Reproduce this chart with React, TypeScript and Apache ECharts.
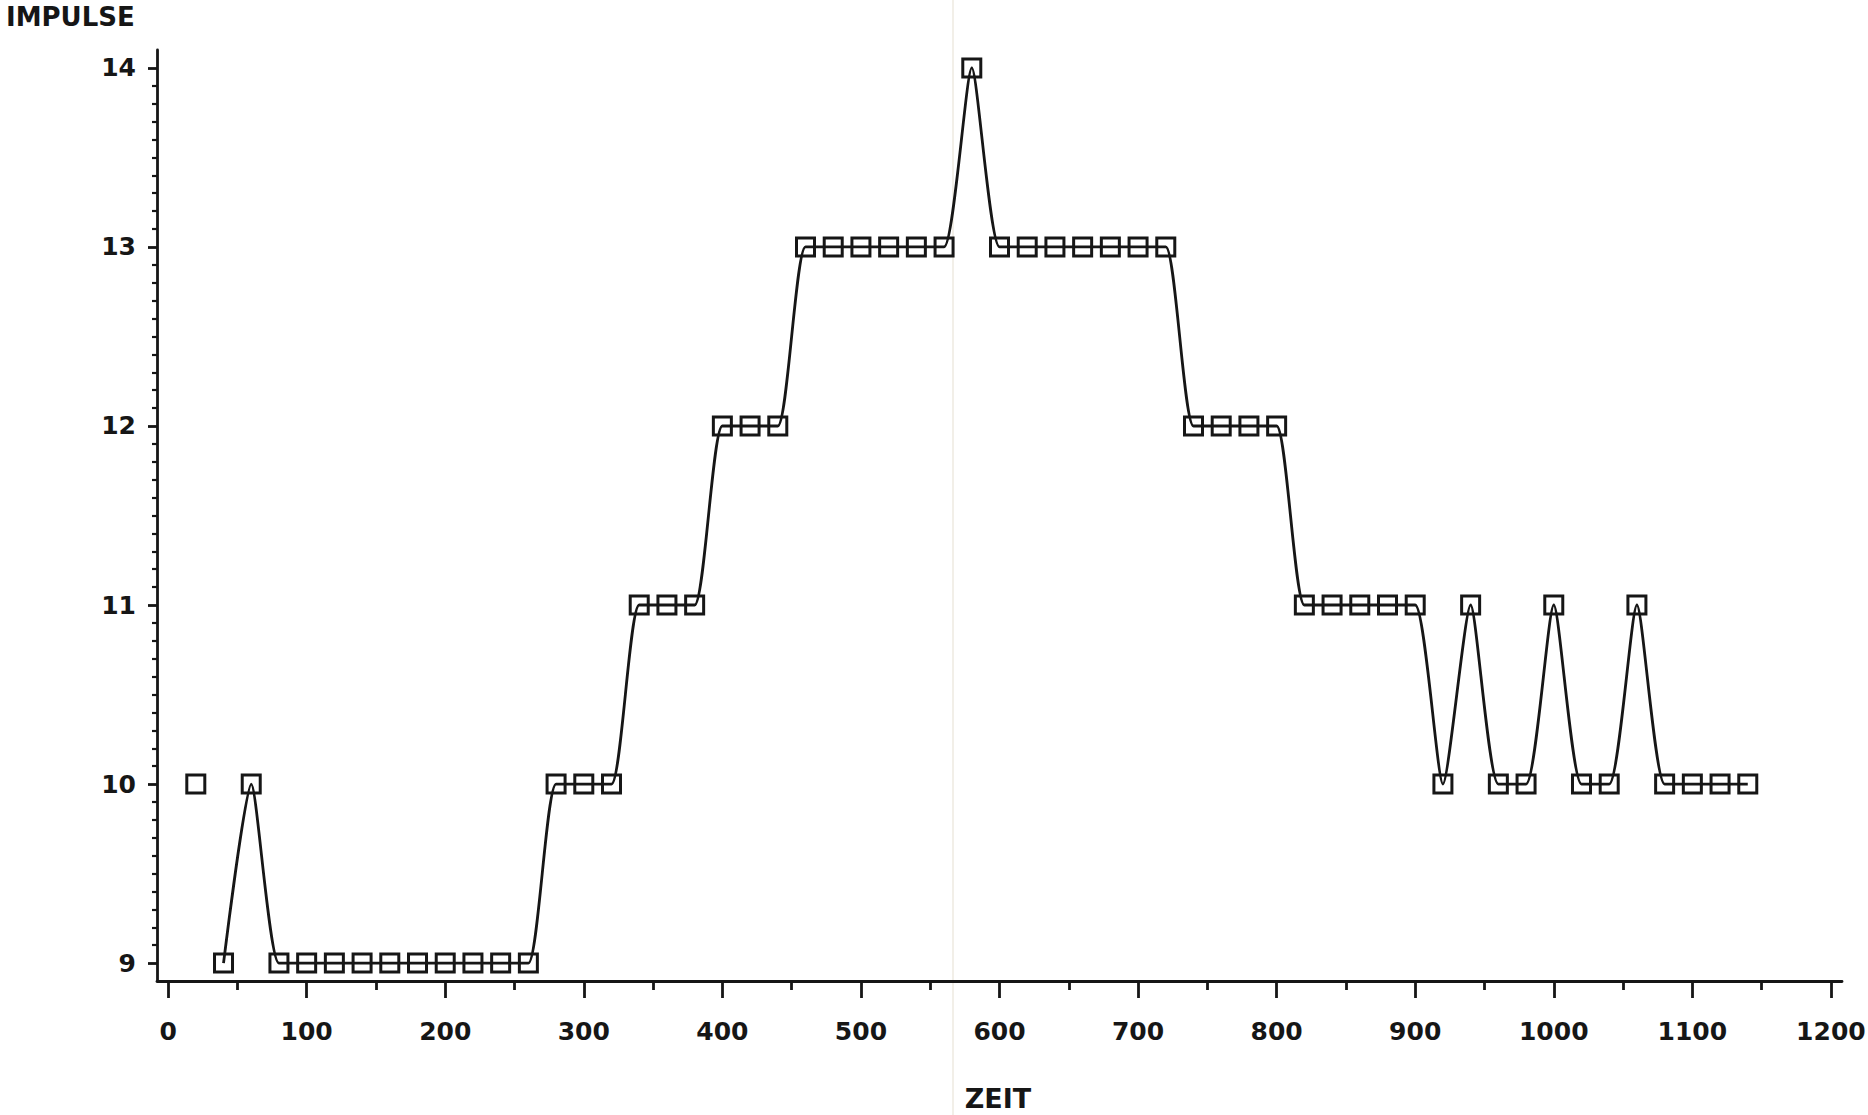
import React, { useEffect, useRef } from 'react';
import * as echarts from 'echarts';

// ---- data ----
const zeit = [
  20, 40, 60, 80, 100, 120, 140, 160, 180, 200, 220, 240, 260, 280, 300, 320,
  340, 360, 380, 400, 420, 440, 460, 480, 500, 520, 540, 560, 580, 600, 620,
  640, 660, 680, 700, 720, 740, 760, 780, 800, 820, 840, 860, 880, 900, 920,
  940, 960, 980, 1000, 1020, 1040, 1060, 1080, 1100, 1120, 1140,
];
const impulse = [
  10, 9, 10, 9, 9, 9, 9, 9, 9, 9, 9, 9, 9, 10, 10, 10,
  11, 11, 11, 12, 12, 12, 13, 13, 13, 13, 13, 13, 14, 13, 13,
  13, 13, 13, 13, 13, 12, 12, 12, 12, 11, 11, 11, 11, 11, 10,
  11, 10, 10, 11, 10, 10, 11, 10, 10, 10, 10,
];
const xTickValues = [0, 100, 200, 300, 400, 500, 600, 700, 800, 900, 1000, 1100, 1200];
const yTickValues = [9, 10, 11, 12, 13, 14];
const xAxisTitle = 'ZEIT';
const yAxisTitle = 'IMPULSE';

const INK = '#161616';
const FONT = '"DejaVu Sans", sans-serif';

export default function App() {
  const ref = useRef<HTMLDivElement>(null);

  useEffect(() => {
    if (!ref.current) return;
    const chart = echarts.init(ref.current, null, { renderer: 'svg' });

    const points = zeit.map((x, i) => [x, impulse[i]]);
    const linePoints = points.slice(1);

    const xMinor = xTickValues.slice(0, -1).map((v) => v + 50);
    const yMinor: number[] = [];
    for (let i = 0; i < yTickValues.length - 1; i++) {
      for (let j = 1; j < 10; j++) yMinor.push(Math.round((yTickValues[i] + j / 10) * 10) / 10);
    }

    const labelStyle = {
      color: INK,
      fontFamily: FONT,
      fontWeight: 'bold' as const,
      fontSize: 25,
      formatter: (v: number) => String(v),
    };

    chart.setOption({
      animation: false,
      backgroundColor: '#ffffff',
      grid: {
        left: 157,
        right: 26,
        top: 50,
        bottom: 134,
        containLabel: false,
        outerBoundsMode: 'none',
      },
      xAxis: [
        {
          type: 'value',
          min: -8,
          max: 1208,
          position: 'bottom',
          axisLine: { show: true, onZero: false, lineStyle: { color: INK, width: 2.8 } },
          axisTick: { show: true, customValues: xTickValues, length: 17, lineStyle: { color: INK, width: 2.8 } },
          axisLabel: { show: true, customValues: xTickValues, margin: 38, ...labelStyle },
          splitLine: { show: false },
        },
        {
          type: 'value',
          min: -8,
          max: 1208,
          position: 'bottom',
          axisLine: { show: false, onZero: false },
          axisTick: { show: true, customValues: xMinor, length: 9, lineStyle: { color: INK, width: 2.8 } },
          axisLabel: { show: false },
          splitLine: { show: false },
        },
      ],
      yAxis: [
        {
          type: 'value',
          min: 8.9,
          max: 14.1,
          position: 'left',
          axisLine: { show: true, onZero: false, lineStyle: { color: INK, width: 2.8 } },
          axisTick: { show: true, customValues: yTickValues, length: 9, lineStyle: { color: INK, width: 2.8 } },
          axisLabel: { show: true, customValues: yTickValues, margin: 21, ...labelStyle },
          splitLine: { show: false },
        },
        {
          type: 'value',
          min: 8.9,
          max: 14.1,
          position: 'left',
          axisLine: { show: false, onZero: false },
          axisTick: { show: true, customValues: yMinor, length: 5, lineStyle: { color: INK, width: 2.2 } },
          axisLabel: { show: false },
          splitLine: { show: false },
        },
      ],
      graphic: [
        {
          type: 'rect',
          silent: true,
          z: -10,
          shape: { x: 952, y: 0, width: 2, height: 1115 },
          style: { fill: '#f2efe8' },
        },
        {
          type: 'text',
          left: 6,
          top: 4,
          style: {
            text: yAxisTitle,
            fill: INK,
            font: `bold 26px ${FONT}`,
          },
        },
        {
          type: 'text',
          x: 998,
          y: 1098,
          style: {
            text: xAxisTitle,
            fill: INK,
            font: `bold 27px ${FONT}`,
            align: 'center',
            verticalAlign: 'middle',
          },
        },
      ],
      series: [
        {
          type: 'line',
          data: linePoints,
          smooth: 0.2,
          symbol: 'none',
          clip: true,
          lineStyle: { color: INK, width: 2.8 },
          z: 2,
        },
        {
          type: 'scatter',
          data: points,
          symbol: 'rect',
          symbolSize: 18,
          itemStyle: { color: 'rgba(255,255,255,0)', borderColor: INK, borderWidth: 3, opacity: 1 },
          z: 3,
        },
      ],
    });

    return () => chart.dispose();
  }, []);

  return (
    <div
      ref={ref}
      style={{ position: 'fixed', left: 0, top: 0, width: 1868, height: 1115, background: '#fff' }}
    />
  );
}
